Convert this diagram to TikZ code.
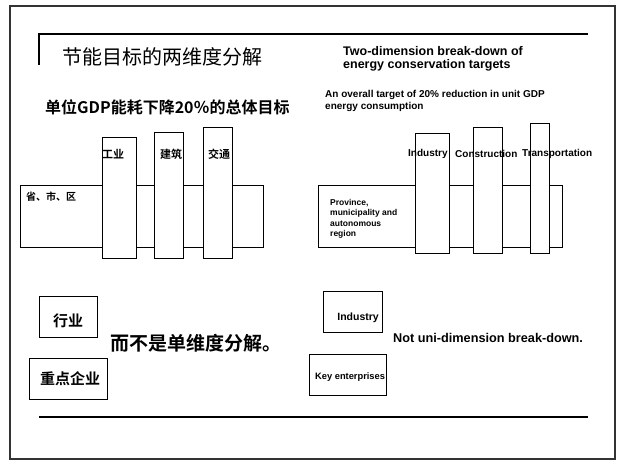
\documentclass[tikz,border=0pt]{standalone}
\usepackage{fontspec}
\setmainfont{Liberation Sans}
\newfontfamily\cjk{Noto Sans CJK SC}
\newfontfamily\cjkb{Noto Sans CJK SC Bold}
\begin{document}
\begin{tikzpicture}[x=1pt,y=-1pt,
  box/.style={draw,fill=white,inner sep=0pt,line width=0.6pt,anchor=north west},
  en/.style={font=\fontsize{#1}{#1}\selectfont\bfseries,inner sep=0pt},
  cn/.style={font=\fontsize{#1}{#1}\selectfont\cjkb,inner sep=0pt},
  rule/.style={line width=1.6pt}]
\useasboundingbox (0,0) rectangle (619,461);
\draw[line width=1.3pt,black!80] (10,6) rectangle (615,459);
% title rules
\coordinate (tl) at (39,34); \coordinate (tb) at (39,65); \coordinate (tr) at (588,34);
\draw[rule] (tb) -- (tl) -- (tr);
\coordinate (bl) at (39,417); \coordinate (br) at (588,417);
\draw[rule] (bl) -- (br);
% Chinese titles
\node[anchor=west,inner sep=0pt,font=\fontsize{20}{20}\selectfont\cjk] (t1) at (62,57) {节能目标的两维度分解};
\node[anchor=west,cn=16] (t2) at (45,107) {单位GDP能耗下降20％的总体目标};
% left diagram
\node[box,minimum width=243pt,minimum height=62pt] (lbig) at (20,185) {};
\node[box,minimum width=34pt,minimum height=121pt] (lind) at (102,137) {};
\node[box,minimum width=29pt,minimum height=126pt] (lcon) at (154,132) {};
\node[box,minimum width=29pt,minimum height=131pt] (ltra) at (203,127) {};
\node[cn=11] (lindt) at (113,154) {工业};
\node[cn=11] (lcont) at (171,154) {建筑};
\node[cn=11] (ltrat) at (219,154) {交通};
\node[anchor=west,cn=10] (lprov) at (26,197) {省、市、区};
% right titles
\node[anchor=north west,en=12.5,align=left] (t3) at (343,46) {Two-dimension break-down of\\[1pt]energy conservation targets};
\node[anchor=north west,en=10,align=left] (t4) at (325,90) {An overall target of 20\% reduction in unit GDP\\[2pt]energy consumption};
% right diagram
\node[box,minimum width=244pt,minimum height=62pt] (rbig) at (318,185) {};
\node[box,minimum width=34pt,minimum height=120pt] (rind) at (415,133) {};
\node[box,minimum width=29pt,minimum height=126pt] (rcon) at (473,127) {};
\node[box,minimum width=19pt,minimum height=130pt] (rtra) at (530,123) {};
\node[anchor=west,en=10] (rindt) at (408,154) {Industry};
\node[anchor=west,en=10] (rcont) at (455,154) {Construction};
\node[anchor=west,en=10] (rtrat) at (522,154) {Transportation};
\node[anchor=north west,en=8.5,align=left] (rprov) at (330,199) {Province,\\[2pt]municipality and\\[2pt]autonomous\\[2pt]region};
% bottom left
\node[box,minimum width=58pt,minimum height=41pt] (lhy) at (39,296) {};
\node[cn=15] (lhyt) at (68,321) {行业};
\node[box,minimum width=78pt,minimum height=41pt] (lkey) at (29,358) {};
\node[cn=15] (lkeyt) at (70,379) {重点企业};
\node[anchor=west,cn=19] (lnot) at (110,343) {而不是单维度分解。};
% bottom right
\node[box,minimum width=59pt,minimum height=41pt] (rhy) at (323,291) {};
\node[anchor=east,en=10.5] (rhyt) at (379,318) {Industry};
\node[box,minimum width=77pt,minimum height=41pt] (rkey) at (309,354) {};
\node[anchor=west,en=9.3] (rkeyt) at (315,377) {Key enterprises};
\node[anchor=west,en=12.7] (rnot) at (393,338) {Not uni-dimension break-down.};
\end{tikzpicture}
\end{document}
